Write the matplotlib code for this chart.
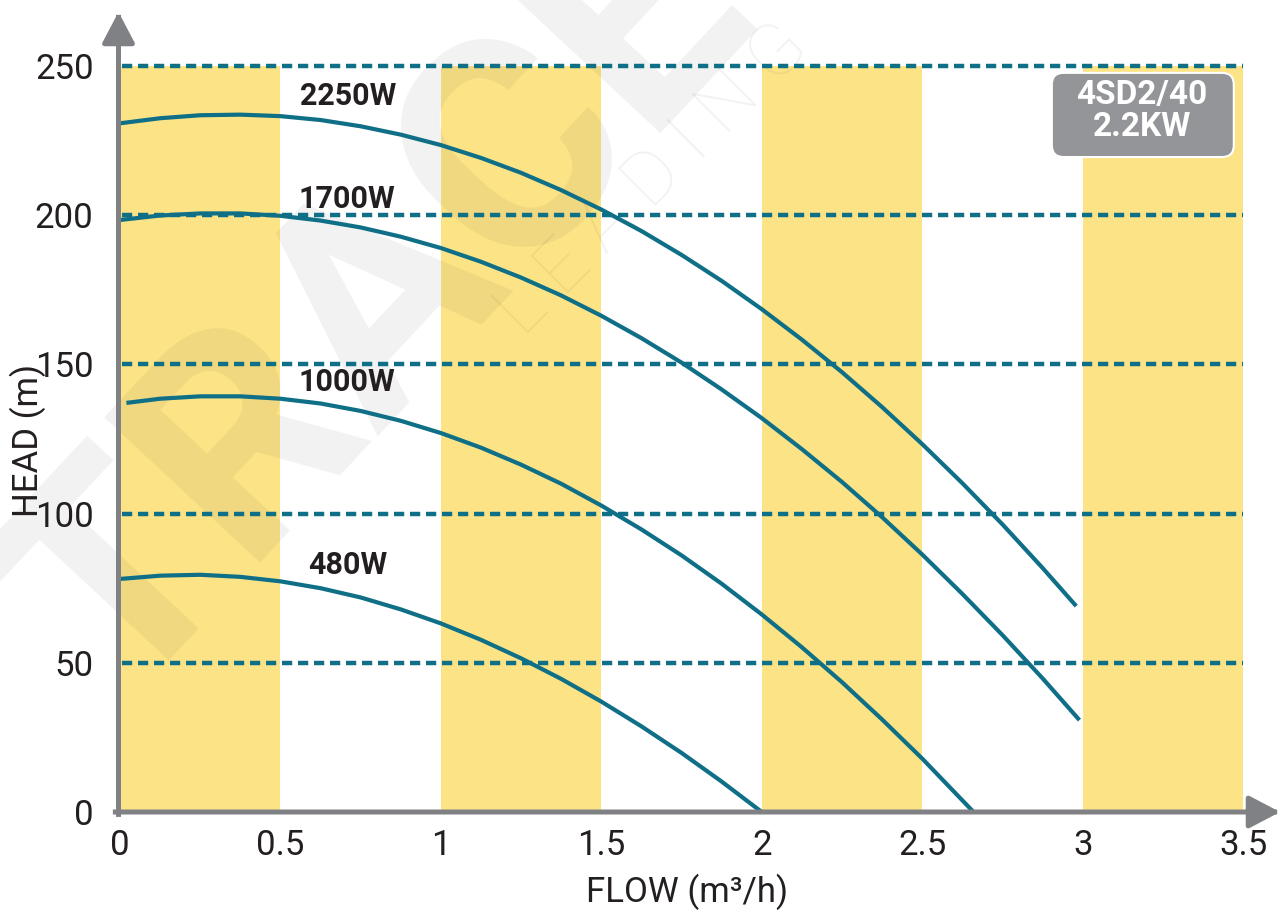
import matplotlib
matplotlib.use("Agg")
import matplotlib.pyplot as plt
from matplotlib.patches import FancyBboxPatch

plt.rcParams['font.family'] = ['Roboto', 'DejaVu Sans']

# pump curves, flow in m3/h, head in m
flow_2250 = [0, 0.125, 0.25, 0.375, 0.5, 0.625, 0.75, 0.875, 1.0, 1.125,
             1.25, 1.375, 1.5, 1.625, 1.75, 1.875, 2.0, 2.125, 2.25, 2.375,
             2.5, 2.625, 2.75, 2.875, 2.98]
head_2250 = [230.8, 232.5, 233.5, 233.7, 233.2, 231.9, 229.8, 227.0, 223.5,
             219.2, 214.2, 208.4, 201.9, 194.7, 186.7, 178.0, 168.5, 158.3,
             147.4, 135.7, 123.3, 110.2, 96.4, 81.8, 69.0]

flow_1700 = [0, 0.125, 0.25, 0.375, 0.5, 0.625, 0.75, 0.875, 1.0, 1.125,
             1.25, 1.375, 1.5, 1.625, 1.75, 1.875, 2.0, 2.125, 2.25, 2.375,
             2.5, 2.625, 2.75, 2.875, 2.99]
head_1700 = [198.4, 199.9, 200.6, 200.6, 199.8, 198.2, 195.9, 192.8, 189.0,
             184.4, 179.1, 173.1, 166.3, 158.8, 150.6, 141.6, 132.0, 121.6,
             110.6, 98.8, 86.3, 73.1, 59.3, 44.8, 30.8]

flow_1000 = [0.02, 0.125, 0.25, 0.375, 0.5, 0.625, 0.75, 0.875, 1.0, 1.125,
             1.25, 1.375, 1.5, 1.625, 1.75, 1.875, 2.0, 2.125, 2.25, 2.375,
             2.5, 2.66]
head_1000 = [137.1, 138.5, 139.3, 139.3, 138.5, 136.9, 134.4, 131.1, 127.0,
             122.1, 116.4, 110.0, 102.7, 94.7, 86.0, 76.5, 66.2, 55.2, 43.5,
             31.0, 17.9, 0]

flow_480 = [0, 0.125, 0.25, 0.375, 0.5, 0.625, 0.75, 0.875, 1.0, 1.125,
            1.25, 1.375, 1.5, 1.625, 1.75, 1.875, 2.0]
head_480 = [78.1, 79.2, 79.5, 78.8, 77.3, 75.0, 71.9, 67.9, 63.2, 57.7,
            51.5, 44.6, 37.0, 28.7, 19.8, 10.2, 0]

curve_names = ['2250W', '1700W', '1000W', '480W']
label_x = [0.71, 0.707, 0.706, 0.711]
label_y = [240, 205.4, 144.2, 82.8]

band_starts = [0, 1, 2, 3]
grid_heads = [50, 100, 150, 200, 250]
x_ticks = [0, 0.5, 1, 1.5, 2, 2.5, 3, 3.5]
x_ticklabels = ['0', '0.5', '1', '1.5', '2', '2.5', '3', '3.5']
y_ticks = [0, 50, 100, 150, 200, 250]
model_text = '4SD2/40\n2.2KW'

teal = '#0f6f87'
yellow = '#fce486'
gray = '#808185'

fig = plt.figure(figsize=(12.8, 9.13), dpi=100)
ax = fig.add_axes([120 / 1280, 101 / 913, 1160 / 1280, 800 / 913])
ax.set_xlim(0, 3.615)
ax.set_ylim(0, 268.1)
for s in ax.spines.values():
    s.set_visible(False)

# yellow bands
ax.bar(band_starts, 250, width=0.5, align='edge', color=yellow, zorder=1)

# faint watermark
ax.text(0.225, 0.63, 'TRACE', transform=ax.transAxes, fontsize=215,
        fontweight='bold', color='black', alpha=0.055, rotation=47,
        ha='center', va='center', rotation_mode='anchor', clip_on=False,
        zorder=1.5)
ax.text(0.46, 0.79, 'L E A D I N G', transform=ax.transAxes, fontsize=54,
        fontweight='light', color='black', alpha=0.055, rotation=45,
        ha='center', va='center', rotation_mode='anchor', clip_on=False,
        zorder=1.5)

# dashed head lines
ax.hlines(grid_heads, 0.005, 3.5, colors=teal, linewidth=3.2,
          linestyles=(0, (2.3, 1.3)), zorder=2)

for fx, hy in [(flow_2250, head_2250), (flow_1700, head_1700),
               (flow_1000, head_1000), (flow_480, head_480)]:
    ax.plot(fx, hy, color=teal, linewidth=3.0, zorder=3,
            solid_capstyle='butt', solid_joinstyle='round')

for name, lx, ly in zip(curve_names, label_x, label_y):
    ax.text(lx, ly, name, ha='center', va='center', fontsize=22,
            fontweight='bold', color='#231f20', zorder=4)

# axes with arrows
arrow = dict(arrowstyle='-|>,head_length=0.95,head_width=0.5', lw=3.6,
             color=gray, shrinkA=0, shrinkB=0, mutation_scale=20,
             capstyle='projecting')
ax.annotate('', xy=(1.0, 0), xytext=(-0.004, 0), xycoords='axes fraction',
            arrowprops=arrow, zorder=5, annotation_clip=False)
ax.annotate('', xy=(-0.0013, 1.0), xytext=(-0.0013, -0.003),
            xycoords='axes fraction', arrowprops=arrow, zorder=5,
            annotation_clip=False)

ax.set_xticks(x_ticks)
ax.set_xticklabels(x_ticklabels)
ax.set_yticks(y_ticks)
ax.tick_params(length=0, labelsize=25, colors='#231f20')
ax.tick_params(axis='x', pad=12)
ax.tick_params(axis='y', pad=19)

fig.text(687 / 1280, 1 - 892 / 913, 'FLOW (m³/h)', ha='center', va='center',
         fontsize=25, color='#231f20')
fig.text(28 / 1280, 1 - 440 / 913, 'HEAD (m)', ha='center', va='center',
         rotation=90, fontsize=25, color='#231f20')

# model badge
box = FancyBboxPatch((2.904, 219.5), 0.567, 28.2,
                     boxstyle='round,pad=0,rounding_size=0.037',
                     mutation_aspect=107.5, fc='#939598', ec='white',
                     lw=1.5, zorder=6)
ax.add_patch(box)
ax.text(3.185, 235.0, model_text, ha='center', va='center', fontsize=24,
        fontweight='bold', color='white', linespacing=0.98, zorder=7)

fig.savefig('out.png', dpi=100)
